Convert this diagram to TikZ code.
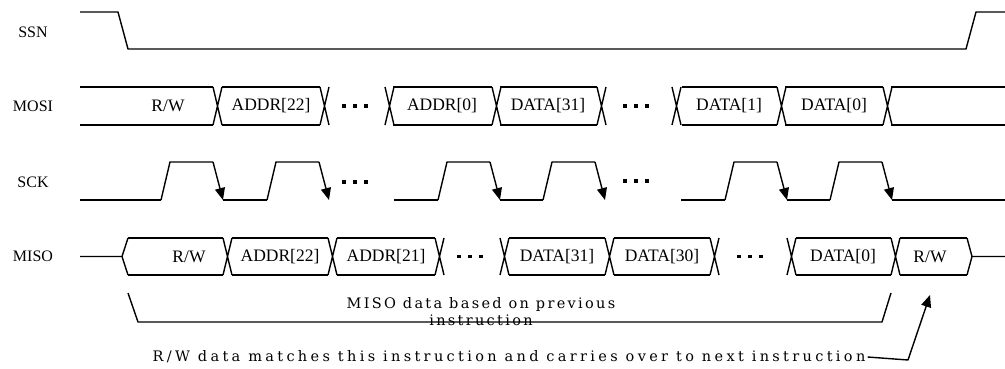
\documentclass[tikz,border=0pt]{standalone}
\usepackage{fontspec}
\setmainfont{Liberation Serif}
\newfontfamily\notefont[LetterSpace=16]{DejaVu Serif}
\newfontfamily\longnotefont[LetterSpace=23]{DejaVu Serif}
\usetikzlibrary{arrows.meta}

% three bold dots between two groups of bits
\newcommand{\bitdots}[2]{%
  \foreach \k in {-1,0,1}
    \fill ({#1+11*\k-1.7},{#2-1.7}) rectangle ++(3.4,3.4);%
}

\begin{document}
\begin{tikzpicture}[x=1pt,y=-1pt,
    wave/.style={line width=1.4pt, line join=round},
    edge/.style={wave, -{Triangle[length=12pt,width=10pt]}},
    signame/.style={font=\fontsize{16}{16}\selectfont},
    bitname/.style={font=\fontsize{17.5}{17.5}\selectfont},
    note/.style={font=\notefont\fontsize{14.5}{17}\selectfont, align=center, inner sep=2pt}]
      \useasboundingbox (0,0) rectangle (1005,369);
      % Signal names
      \foreach \n/\t/\y in {ssn/SSN/32, mosi/MOSI/106, sck/SCK/182, miso/MISO/256}
        \node[signame] (\n) at (33,\y) {\t};
      % SSN
      \draw[wave] (80,12) -- (118,12) -- (128,49) -- (966,49) -- (976,12) -- (1005,12);
      % MOSI: bit boxes and crossings
      \foreach \a/\b in {80/213, 222/320, 393/492, 500/597, 682/777, 785/883, 891/1005}
        \draw[wave] (\a,87) -- (\b,87) (\a,125) -- (\b,125);
      \foreach \a in {213,320,385,492,597,672,777,883}
        \draw[wave] (\a,87) -- ++(9,38) (\a,125) -- ++(9,-38);
      \foreach \x/\t [count=\i] in {168/R\slash W, 271/ADDR[22], 442/ADDR[0], 548/DATA[31], 729/DATA[1], 834/DATA[0]}
        \node[bitname] (mosi\i) at (\x,106) {\t};
      \bitdots{355}{106}
      \bitdots{636}{106}
      % SCK: low levels and clock pulses
      \foreach \a/\b in {80/161, 223/267, 394/438, 500/543, 681/725, 787/830, 892/1005}
        \draw[wave] (\a,200) -- (\b,200);
      \foreach \f in {213,319,490,595,777,882} {
        \draw[wave] (\f-52,200) -- (\f-43,162) -- (\f,162);
        \draw[edge] (\f,162) -- (\f+10,200);
      }
      \bitdots{355}{182}
      \bitdots{636}{181}
      % MISO: bit boxes and crossings
      \draw[wave] (80,256.5) -- (122,256.5) -- (128,238) (122,256.5) -- (128,275);
      \foreach \a/\b in {128/223, 232/328, 337/435, 509/605, 614/710, 796/891, 900/967}
        \draw[wave] (\a,238) -- (\b,238) (\a,275) -- (\b,275);
      \foreach \a in {223,328,435,500,605,710,787,891}
        \draw[wave] (\a,238) -- ++(9,37) (\a,275) -- ++(9,-37);
      \draw[wave] (967,238) -- (972,256.5) -- (967,275) (972,256.5) -- (1005,256.5);
      \foreach \x/\t [count=\i] in {189/R\slash W, 280/ADDR[22], 386/ADDR[21], 557/DATA[31], 662/DATA[30], 843/DATA[0], 930/R\slash W}
        \node[bitname] (miso\i) at (\x,256.5) {\t};
      \bitdots{470}{256.5}
      \bitdots{750}{256.5}
      % Notes under MISO
      \draw[wave] (128,293) -- (138,322) -- (882,322) -- (891,293);
      \node[note] (prevnote) at (481,312) {MISO data based on previous\\instruction};
      \node[note, font=\longnotefont\fontsize{14.5}{17}\selectfont] (carrynote) at (509,357) {R/W data matches this instruction and carries over to next instruction};
      \coordinate (bend) at (908,360);
      \coordinate (rwtip) at (930,295);
      \draw[edge] (carrynote.east) -- (bend) -- (rwtip);
    \end{tikzpicture}
\end{document}
